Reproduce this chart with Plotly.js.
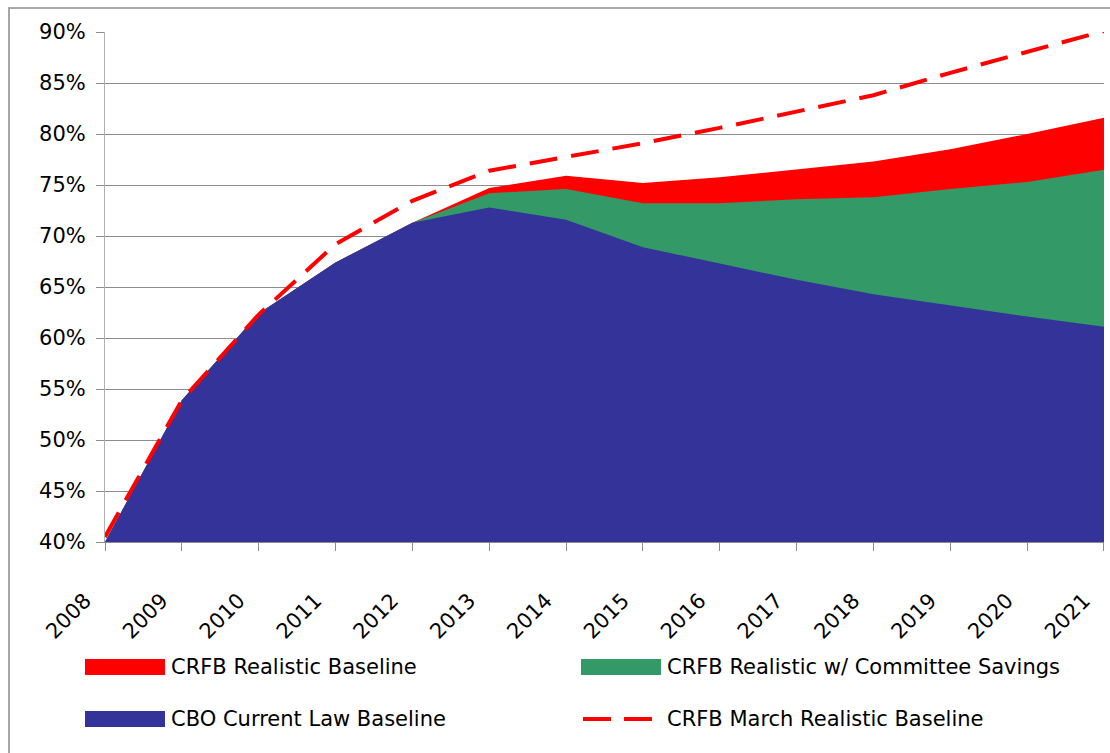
<!DOCTYPE html>
<html>
<head>
<meta charset="utf-8">
<script src="https://cdn.plot.ly/plotly-3.0.1.min.js"></script>
<style>
  html, body { margin: 0; padding: 0; background: #fff; }
  #wrap { position: relative; width: 1110px; height: 753px; overflow: hidden; }
  #chart { position: absolute; left: 0; top: 0; width: 1110px; height: 753px; }
  #frame { position: absolute; left: 8px; top: 7px; width: 1110px; height: 760px;
           border-top: 2px solid #a6a6a6; border-left: 2px solid #a6a6a6; pointer-events: none; }
</style>
</head>
<body>
<div id="wrap">
  <div id="chart"></div>
  <div id="frame"></div>
</div>
<script>
// Data (share of GDP, %)
const years = [2008, 2009, 2010, 2011, 2012, 2013, 2014, 2015, 2016, 2017, 2018, 2019, 2020, 2021];
const crfbRealistic      = [40.0, 53.9, 62.4, 67.4, 71.3, 74.7, 75.9, 75.2, 75.75, 76.5, 77.3, 78.5, 80.0, 81.6];
const crfbCommittee      = [40.0, 53.9, 62.4, 67.4, 71.3, 74.2, 74.6, 73.2, 73.2, 73.6, 73.8, 74.6, 75.3, 76.5];
const cboCurrentLaw      = [40.0, 53.9, 62.4, 67.4, 71.3, 72.8, 71.6, 68.9, 67.3, 65.7, 64.3, 63.2, 62.1, 61.1];
const crfbMarchRealistic = [40.5, 53.9, 62.3, 69.2, 73.45, 76.4, 77.75, 79.1, 80.6, 82.2, 83.8, 86.0, 88.0, 90.1];
const yTicks = [40, 45, 50, 55, 60, 65, 70, 75, 80, 85, 90];
const yTickText = yTicks.map(v => v + '%');
const seriesNames = ['CRFB Realistic Baseline', 'CRFB Realistic w/ Committee Savings',
                     'CBO Current Law Baseline', 'CRFB March Realistic Baseline'];
const colors = ['#FF0000', '#339966', '#333399', '#FF0000'];

const FONT = "'DejaVu Sans', 'Noto Sans', sans-serif";

// plot area in pixels
const L = 105, R = 1104, T = 32, B = 542, W = 1110, H = 753;
const px = x => (x - L) / (R - L);
const py = y => (B - y) / (B - T);

const traces = [
  { x: years, y: crfbRealistic, name: seriesNames[0], type: 'scatter', mode: 'lines',
    fill: 'tozeroy', fillcolor: colors[0], line: { width: 0, color: colors[0] }, hoverinfo: 'x+y' },
  { x: years, y: crfbCommittee, name: seriesNames[1], type: 'scatter', mode: 'lines',
    fill: 'tozeroy', fillcolor: colors[1], line: { width: 0, color: colors[1] }, hoverinfo: 'x+y' },
  { x: years, y: cboCurrentLaw, name: seriesNames[2], type: 'scatter', mode: 'lines',
    fill: 'tozeroy', fillcolor: colors[2], line: { width: 0, color: colors[2] }, hoverinfo: 'x+y' },
  { x: years, y: crfbMarchRealistic, name: seriesNames[3], type: 'scatter', mode: 'lines',
    line: { width: 4, color: colors[3], dash: '28px,14px' }, hoverinfo: 'x+y' }
];

// Legend drawn as swatches + labels (two columns)
const legendPos = [
  { x: 85, y: 667 }, { x: 581, y: 667 }, { x: 85, y: 719 }, { x: 581, y: 719 }
];
const shapes = [];
const annotations = [];
legendPos.forEach((p, i) => {
  if (i === 3) {
    shapes.push({ type: 'line', xref: 'paper', yref: 'paper',
      x0: px(p.x + 2), x1: px(p.x + 72), y0: py(p.y), y1: py(p.y),
      line: { color: colors[i], width: 4, dash: '28px,13px' } });
  } else {
    shapes.push({ type: 'rect', xref: 'paper', yref: 'paper',
      x0: px(p.x), x1: px(p.x + 80), y0: py(p.y - 8), y1: py(p.y + 8),
      fillcolor: colors[i], line: { width: 0 } });
  }
  annotations.push({ xref: 'paper', yref: 'paper', x: px(p.x + 84), y: py(p.y),
    xanchor: 'left', yanchor: 'middle', showarrow: false, text: seriesNames[i],
    font: { family: FONT, size: 21, color: '#000' } });
});

const layout = {
  width: W, height: H,
  margin: { l: L, r: W - R, t: T, b: H - B, pad: 0 },
  paper_bgcolor: '#fff', plot_bgcolor: '#fff',
  showlegend: false,
  font: { family: FONT, color: '#000' },
  xaxis: {
    range: [2007.9999, 2021.0001], tickmode: 'array', tickvals: years, ticktext: years.map(String),
    tickangle: -45, ticks: 'outside', ticklen: 8, tickcolor: '#8c8c8c', tickwidth: 1,
    ticklabelstandoff: 29, ticklabelshift: -20,
    showgrid: false, zeroline: false, showline: true, linecolor: '#8c8c8c', linewidth: 1,
    tickfont: { family: FONT, size: 21, color: '#000' }, fixedrange: true
  },
  yaxis: {
    range: [40, 90], tickmode: 'array', tickvals: yTicks, ticktext: yTickText,
    ticks: 'outside', ticklen: 8, tickcolor: '#8c8c8c', tickwidth: 1,
    showgrid: true, gridcolor: '#8c8c8c', gridwidth: 1, zeroline: false,
    showline: true, linecolor: '#b0b0b0', linewidth: 1, ticklabelstandoff: 6,
    tickfont: { family: FONT, size: 21, color: '#000' }, fixedrange: true
  },
  shapes: shapes,
  annotations: annotations
};

Plotly.newPlot('chart', traces, layout, { displayModeBar: false, staticPlot: true });
</script>
</body>
</html>
